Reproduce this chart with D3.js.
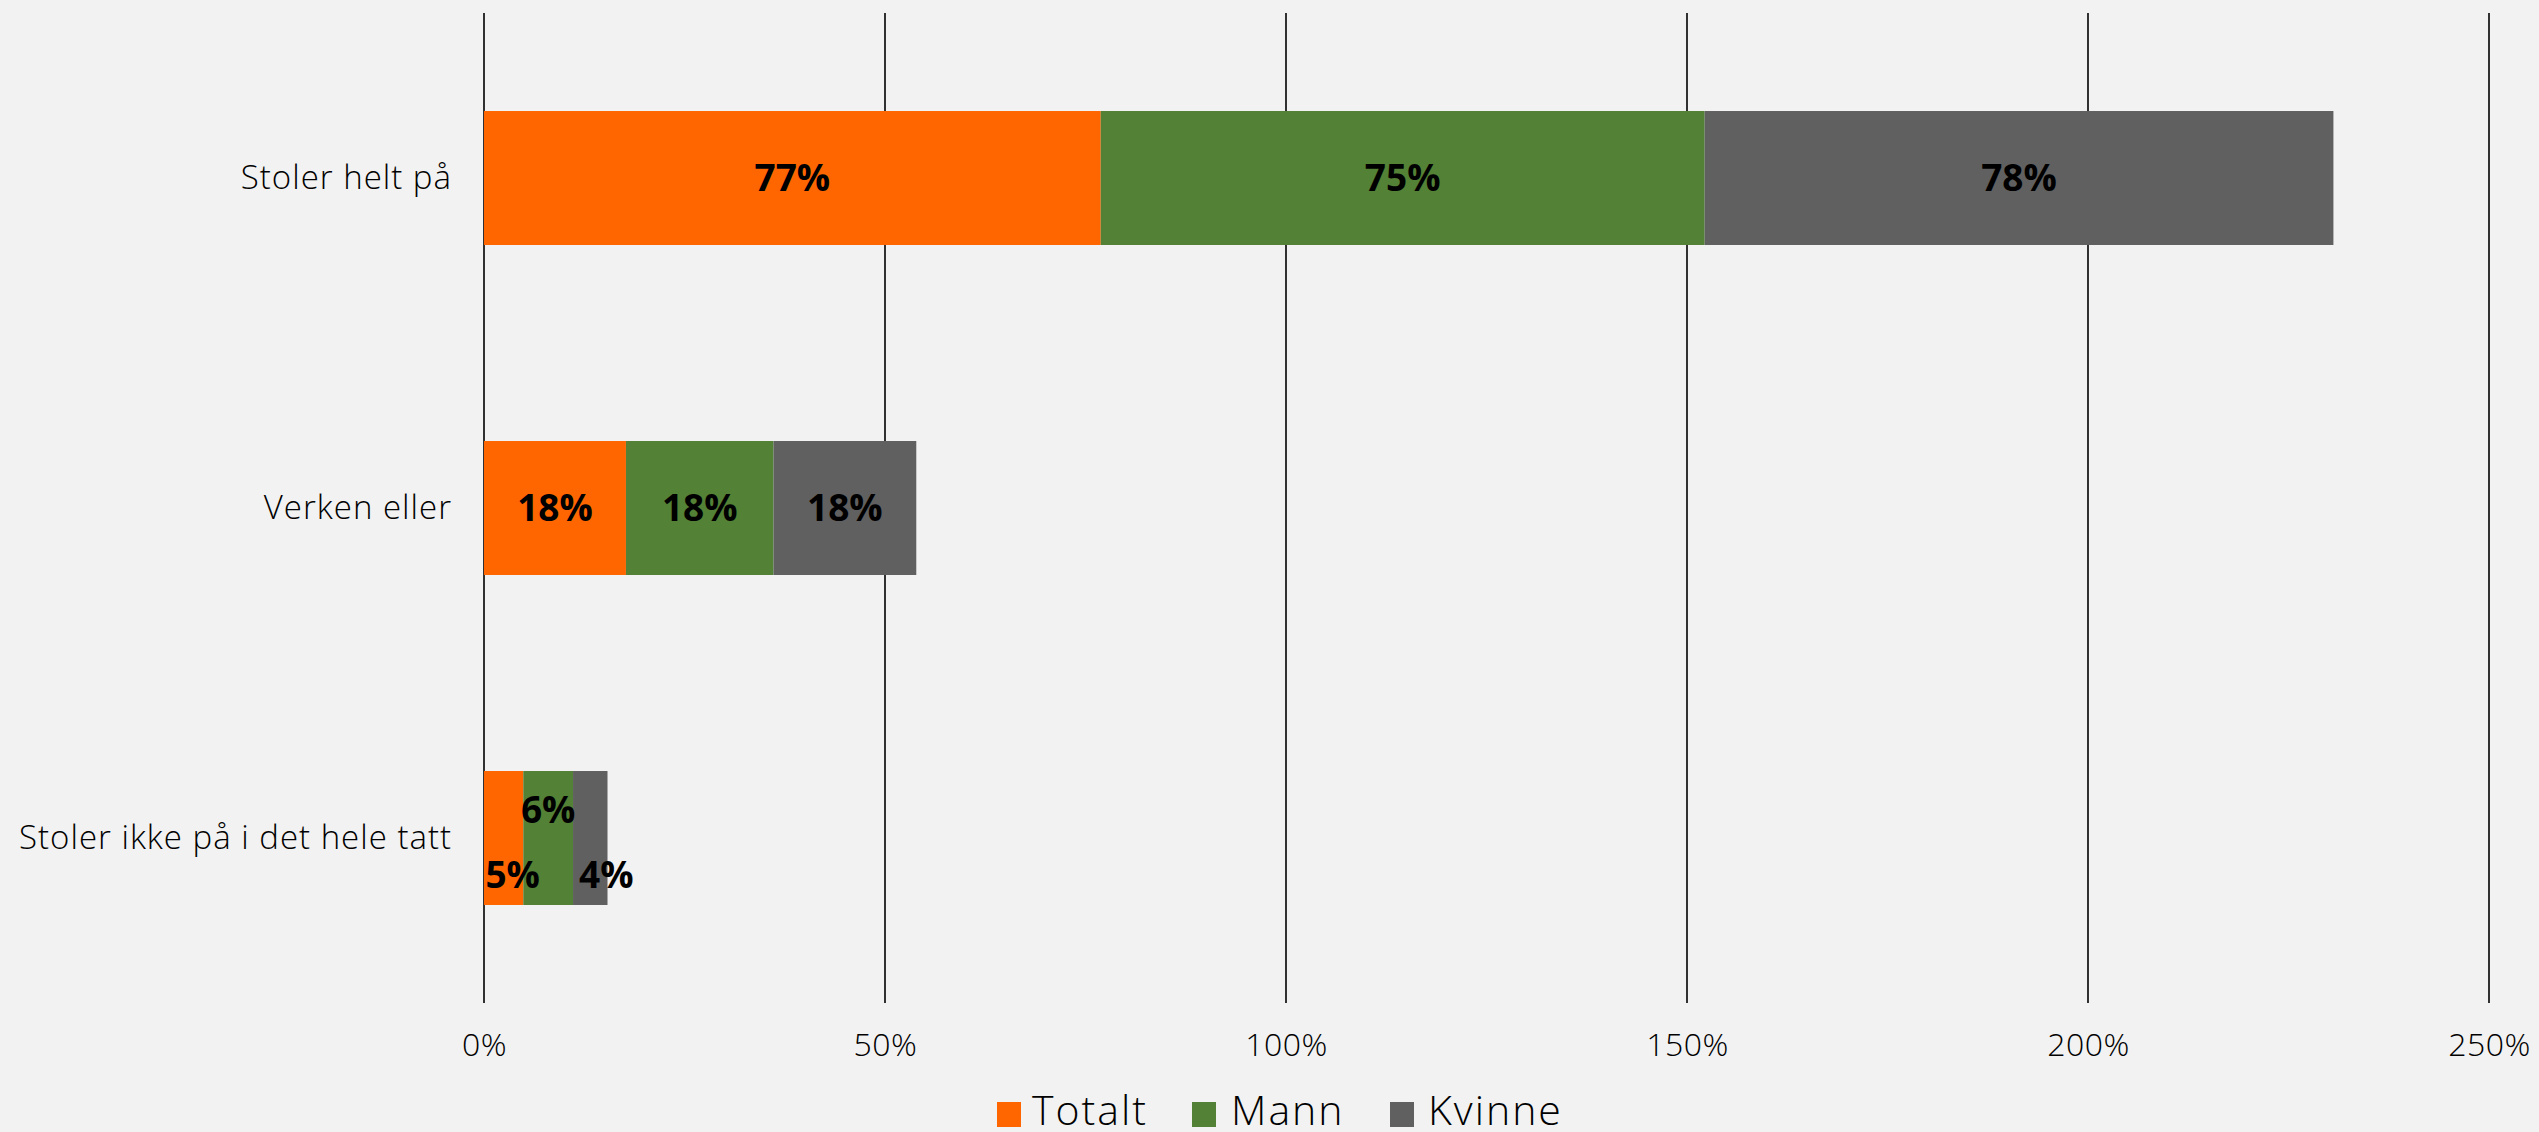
<!DOCTYPE html>
<html><head><meta charset="utf-8">
<script src="https://cdn.jsdelivr.net/npm/d3@7"></script>
<style>
html,body{margin:0;padding:0;background:#F2F2F2;}
svg{display:block;font-family:"Open Sans",sans-serif;}
</style></head>
<body>
<svg id="chart" width="2539" height="1132"></svg>
<script>
const categories = ["Stoler helt på", "Verken eller", "Stoler ikke på i det hele tatt"];
const seriesNames = ["Totalt", "Mann", "Kvinne"];
const totalt = [0.769, 0.177, 0.049];
const mann   = [0.753, 0.184, 0.062];
const kvinne = [0.784, 0.178, 0.043];
const tickValues = [0, 0.5, 1.0, 1.5, 2.0, 2.5];
const colors = ["#FF6600", "#538135", "#606060"];

const svg = d3.select("#chart");
const W = 2539, H = 1132;
svg.append("rect").attr("width", W).attr("height", H).attr("fill", "#F2F2F2");

const x = d3.scaleLinear().domain([0, 2.5]).range([484, 2489]);
const y = d3.scaleBand().domain(categories).range([13, 1003]).paddingInner(0.594).paddingOuter(0.297);

svg.append("g").selectAll("line").data(tickValues).join("line")
  .attr("x1", d => x(d)).attr("x2", d => x(d))
  .attr("y1", 13).attr("y2", 1003)
  .attr("stroke", "#000").attr("stroke-width", 1.6);

const xAxis = d3.axisBottom(x).tickValues(tickValues).tickFormat(d3.format(".0%")).tickSize(0).tickPadding(0);
const gx = svg.append("g").attr("transform", "translate(0,1033)").call(xAxis);
gx.select(".domain").remove();
gx.selectAll("text").attr("font-size", 32).attr("font-weight", 300).attr("fill", "#000")
  .attr("letter-spacing", 0.5).attr("dy", "0.71em").attr("font-family", "Open Sans, sans-serif");

const yAxis = d3.axisLeft(y).tickSize(0).tickPadding(32);
const gy = svg.append("g").attr("transform", "translate(484,0)").call(yAxis);
gy.select(".domain").remove();
gy.selectAll("text").attr("font-size", 33).attr("font-weight", 300).attr("fill", "#000")
  .attr("letter-spacing", 1).attr("font-family", "Open Sans, sans-serif");

const table = categories.map((c, i) => ({cat: c, Totalt: totalt[i], Mann: mann[i], Kvinne: kvinne[i]}));
const stacked = d3.stack().keys(seriesNames)(table);

const labelShift = {"Stoler ikke på i det hele tatt": {Totalt: [9, 37], Mann: [0, -28], Kvinne: [16, 37]}};

const layers = svg.append("g").selectAll("g").data(stacked).join("g")
  .attr("fill", (d, i) => colors[i]);
layers.selectAll("rect").data(d => d.map(p => ({p, key: d.key}))).join("rect")
  .attr("x", d => x(d.p[0])).attr("width", d => x(d.p[1]) - x(d.p[0]))
  .attr("y", d => y(d.p.data.cat)).attr("height", y.bandwidth());

const fmt = d3.format(".0%");
const labels = svg.append("g");
stacked.forEach(layer => {
  layer.forEach(p => {
    const cat = p.data.cat;
    const sh = (labelShift[cat] && labelShift[cat][layer.key]) || [0, 0];
    labels.append("text")
      .attr("x", (x(p[0]) + x(p[1])) / 2 + sh[0])
      .attr("y", y(cat) + y.bandwidth() / 2 + sh[1])
      .attr("dy", "0.36em")
      .attr("text-anchor", "middle")
      .attr("font-size", 37).attr("font-weight", 700).attr("fill", "#000")
      .text(fmt(p.data[layer.key]));
  });
});

const legendItems = [{name: "Totalt", sx: 997, tx: 1032}, {name: "Mann", sx: 1192, tx: 1231}, {name: "Kvinne", sx: 1390, tx: 1428}];
const lg = svg.append("g");
seriesNames.forEach((s, i) => {
  const it = legendItems[i];
  lg.append("rect").attr("x", it.sx).attr("y", 1102).attr("width", 24).attr("height", 25).attr("fill", colors[i]);
  lg.append("text").attr("x", it.tx).attr("y", 1125).attr("font-size", 41).attr("font-weight", 300)
    .attr("letter-spacing", 2).attr("fill", "#000").text(s);
});
</script>
</body></html>
